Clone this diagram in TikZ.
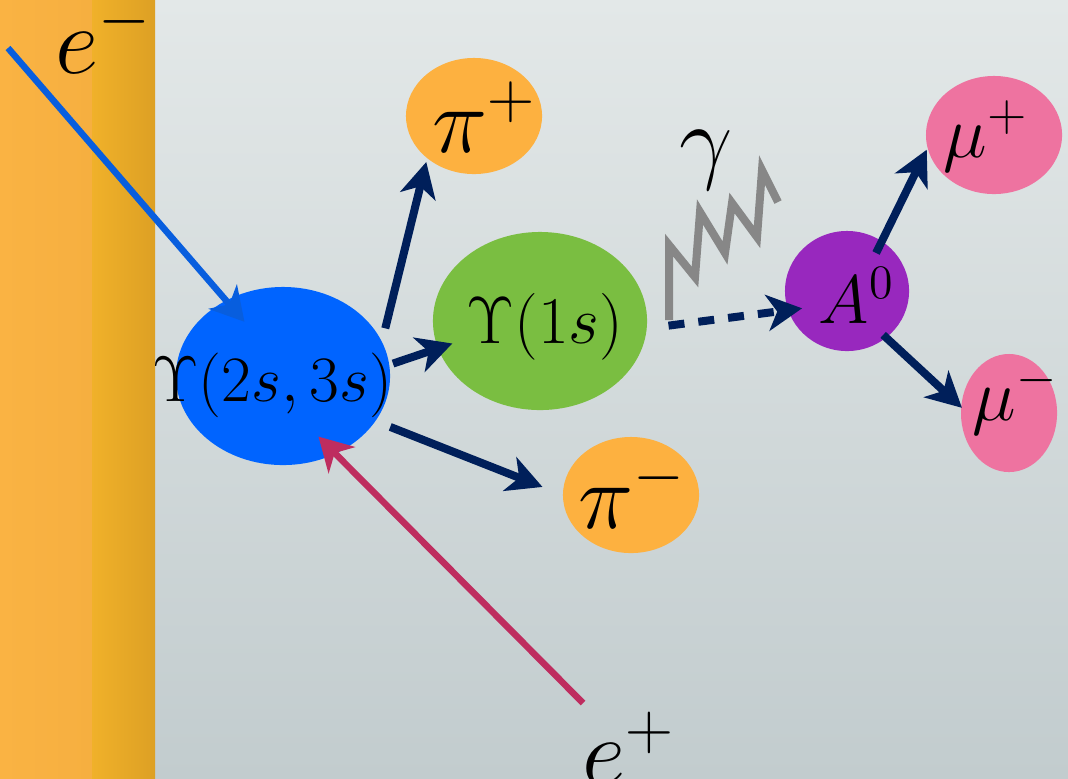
\documentclass[tikz,border=0pt]{standalone}
\usepackage{fix-cm}
\usetikzlibrary{arrows.meta,shapes.geometric}
\definecolor{bgtop}{RGB}{227,232,232}
\definecolor{bgbot}{RGB}{194,204,206}
\definecolor{barl}{RGB}{250,179,67}
\definecolor{barll}{RGB}{246,175,64}
\definecolor{barm}{RGB}{240,177,42}
\definecolor{barr}{RGB}{221,160,36}
\definecolor{navy}{RGB}{0,31,90}
\definecolor{eblue}{RGB}{8,94,222}
\definecolor{pcrim}{RGB}{190,45,95}
\definecolor{upsblue}{RGB}{0,100,255}
\definecolor{upsgreen}{RGB}{122,190,65}
\definecolor{pion}{RGB}{253,177,64}
\definecolor{axion}{RGB}{152,40,190}
\definecolor{muon}{RGB}{238,115,160}
\definecolor{photon}{RGB}{135,135,135}
\begin{document}
\begin{tikzpicture}[x=0.01cm,y=-0.01cm,
  blob/.style={ellipse,inner sep=0pt,outer sep=0pt},
  decay/.style={draw=navy,line width=0.8mm,-{Stealth[length=3.5mm,width=3.6mm,inset=1mm]}},
  beam/.style={draw=#1,line width=0.65mm,-{Stealth[length=3.3mm,width=3.7mm,inset=1mm]}},
  big/.style={font=\fontsize{27}{30}\selectfont,inner sep=0pt},
  mid/.style={font=\fontsize{26.5}{30}\selectfont,inner sep=0pt},
  sml/.style={font=\fontsize{21}{24}\selectfont,inner sep=0pt},
  ups/.style={font=\fontsize{#1}{20}\selectfont,inner sep=0pt}]
\clip (0,0) rectangle (1068,778);
\shade[top color=bgtop,bottom color=bgbot] (0,0) rectangle (1068,778);
\shade[left color=barl,right color=barll] (0,0) rectangle (92,778);
\shade[left color=barm,right color=barr] (92,0) rectangle (155,778);
% states
\node[blob,fill=upsblue,minimum width=2.14cm,minimum height=1.78cm] (u2) at (283,376) {};
\node[blob,fill=upsgreen,minimum width=2.14cm,minimum height=1.78cm] (u1) at (540,321) {};
\node[blob,fill=pion,minimum width=1.36cm,minimum height=1.16cm] (pip) at (474,116) {};
\node[blob,fill=pion,minimum width=1.36cm,minimum height=1.16cm] (pim) at (631,495) {};
\node[blob,fill=axion,minimum width=1.24cm,minimum height=1.2cm] (ao) at (847,291) {};
\node[blob,fill=muon,minimum width=1.36cm,minimum height=1.18cm] (mup) at (994,135) {};
\node[blob,fill=muon,minimum width=0.96cm,minimum height=1.18cm] (mum) at (1009,413) {};
% labels
\node[ups=18.4] (u2t) at (272,385) {$\Upsilon(2s,3s)$};
\node[ups=19] (u1t) at (545,327) {$\Upsilon(1s)$};
\node[mid,anchor=base west] (pipt) at (432,152) {$\pi^+$};
\node[mid,anchor=base west] (pimt) at (578,528) {$\pi^-$};
\node[sml,anchor=base west] (mupt) at (943,157) {$\mu^+$};
\node[sml,anchor=base west] (mumt) at (972,420) {$\mu^-$};
\node[font=\fontsize{19.5}{22}\selectfont,inner sep=0pt,anchor=base west] (aot) at (818,323) {$A^0$};
\node[big,anchor=base west] (emt) at (55,73) {$e^-$};
\node[big,anchor=base west] (ept) at (582,784) {$e^+$};
\node[big] (gat) at (706,160) {$\gamma$};
% photon
\draw[photon,line width=0.8mm,line join=miter] (669,320)--(669,245)--(695,277)--(700,212)--(725,253)--(732,203)--(757,237)--(762,170)--(778,202);
% beams
\coordinate (em) at (8,48);
\coordinate (ep) at (583,703);
\draw[beam=eblue,shorten >=-2.8mm] (em) -- (u2.127);
\draw[beam=pcrim,shorten >=-2.4mm] (ep) -- (u2.-56);
% decays
\draw[decay,shorten <=1.4mm,shorten >=0.4mm] (u2.19) -- (pip.222);
\draw[decay,shorten <=0.4mm,shorten >=-1.5mm] (u2.6) -- (u1.195);
\draw[decay,shorten <=1.6mm,shorten >=2.2mm] (u2.-26) -- (pim.180);
\draw[decay,dash pattern=on 1.6mm off 1.4mm,shorten <=2.2mm,shorten >=-1.4mm] (u1.-4) -- (ao.198);
\draw[decay,shorten <=-1.3mm,shorten >=0.2mm] (ao.55) -- (mup.191);
\draw[decay,shorten <=-0.4mm,shorten >=-0.1mm] (ao.-50) -- (mum.173);
\end{tikzpicture}
\end{document}
